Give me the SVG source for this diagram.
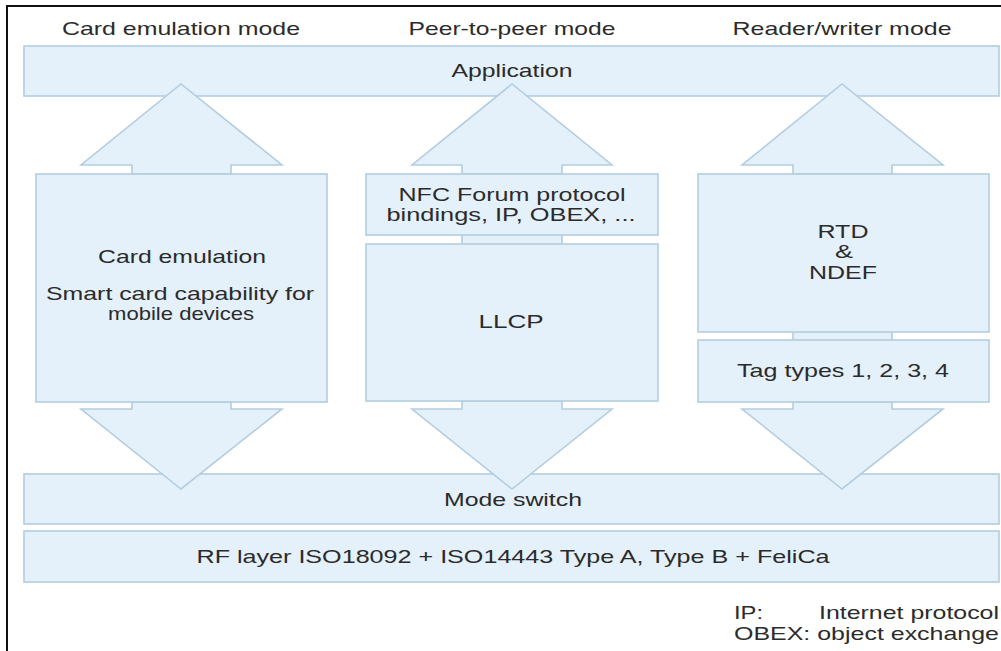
<svg xmlns="http://www.w3.org/2000/svg" width="1001" height="651" viewBox="0 0 1001 651">
<style>
.b{fill:#e4f0fa;stroke:#b3cde0;stroke-width:1.6}
.t{font-family:"Liberation Sans",Arial,sans-serif;font-size:19px;fill:#2b2b2b;text-anchor:middle}
.l{font-family:"Liberation Sans",Arial,sans-serif;font-size:19px;fill:#2b2b2b}
</style>
<rect x="0" y="0" width="1001" height="651" fill="#fff"/>
<rect x="7" y="6" width="1010" height="660" fill="none" stroke="#111" stroke-width="2"/>
<g id="headers">
<text class="t" x="181" y="35" textLength="238" lengthAdjust="spacingAndGlyphs">Card emulation mode</text>
<text class="t" x="512" y="35" textLength="207" lengthAdjust="spacingAndGlyphs">Peer-to-peer mode</text>
<text class="t" x="842" y="35" textLength="219" lengthAdjust="spacingAndGlyphs">Reader/writer mode</text>
</g>
<g id="application">
<rect class="b" x="24" y="46" width="975" height="50"/>
<text class="t" x="512" y="77" textLength="121" lengthAdjust="spacingAndGlyphs">Application</text>
</g>
<g id="mode-switch">
<rect class="b" x="24" y="474" width="975" height="50"/>
<text class="t" x="513" y="506" textLength="138" lengthAdjust="spacingAndGlyphs">Mode switch</text>
</g>
<g id="rf-layer">
<rect class="b" x="24" y="531" width="975" height="51"/>
<text class="t" x="513" y="563" textLength="633" lengthAdjust="spacingAndGlyphs">RF layer ISO18092 + ISO14443 Type A, Type B + FeliCa</text>
</g>
<g id="connectors">
<polygon class="b" points="132,174 132,165 81,165 181,84 282,165 231,165 231,174"/>
<polygon class="b" points="462,174 462,165 412,165 512,84 612,165 562,165 562,174"/>
<polygon class="b" points="793,174 793,165 742,165 842,84 943,165 892,165 892,174"/>
<polygon class="b" points="132,402 132,409 81,409 181,489 282,409 231,409 231,402"/>
<polygon class="b" points="462,401 462,409 412,409 512,489 612,409 562,409 562,401"/>
<polygon class="b" points="793,402 793,409 742,409 842,489 943,409 892,409 892,402"/>
<rect x="462" y="234" width="100" height="11" fill="#e4f0fa"/>
<path d="M462,234V245M562,234V245" stroke="#b3cde0" stroke-width="1.6"/>
<rect x="793" y="331" width="99" height="10" fill="#e4f0fa"/>
<path d="M793,331V341M892,331V341" stroke="#b3cde0" stroke-width="1.6"/>
</g>
<g id="card-emulation">
<rect class="b" x="36" y="174" width="291" height="228"/>
<text class="t" x="182" y="263" textLength="168" lengthAdjust="spacingAndGlyphs">Card emulation</text>
<text class="t" x="180" y="300" textLength="268" lengthAdjust="spacingAndGlyphs">Smart card capability for</text>
<text class="t" x="181" y="320" textLength="146" lengthAdjust="spacingAndGlyphs">mobile devices</text>
</g>
<g id="nfc-bindings">
<rect class="b" x="366" y="174" width="292" height="61"/>
<text class="t" x="512" y="201" textLength="227" lengthAdjust="spacingAndGlyphs">NFC Forum protocol</text>
<text class="t" x="511" y="221" textLength="249" lengthAdjust="spacingAndGlyphs">bindings, IP, OBEX, ...</text>
</g>
<g id="llcp">
<rect class="b" x="366" y="244" width="292" height="157"/>
<text class="t" x="511" y="328" textLength="65" lengthAdjust="spacingAndGlyphs">LLCP</text>
</g>
<g id="rtd-ndef">
<rect class="b" x="698" y="174" width="291" height="158"/>
<text class="t" x="843" y="238" textLength="51" lengthAdjust="spacingAndGlyphs">RTD</text>
<text class="t" x="844" y="258" textLength="18" lengthAdjust="spacingAndGlyphs">&amp;</text>
<text class="t" x="843" y="279" textLength="68" lengthAdjust="spacingAndGlyphs">NDEF</text>
</g>
<g id="tag-types">
<rect class="b" x="698" y="340" width="291" height="62"/>
<text class="t" x="843" y="377" textLength="212" lengthAdjust="spacingAndGlyphs">Tag types 1, 2, 3, 4</text>
</g>
<g id="legend">
<text class="l" x="734" y="619" textLength="29" lengthAdjust="spacingAndGlyphs">IP:</text>
<text class="l" x="819" y="619" textLength="180" lengthAdjust="spacingAndGlyphs">Internet protocol</text>
<text class="l" x="734" y="640" textLength="265" lengthAdjust="spacingAndGlyphs">OBEX: object exchange</text>
</g>
</svg>
